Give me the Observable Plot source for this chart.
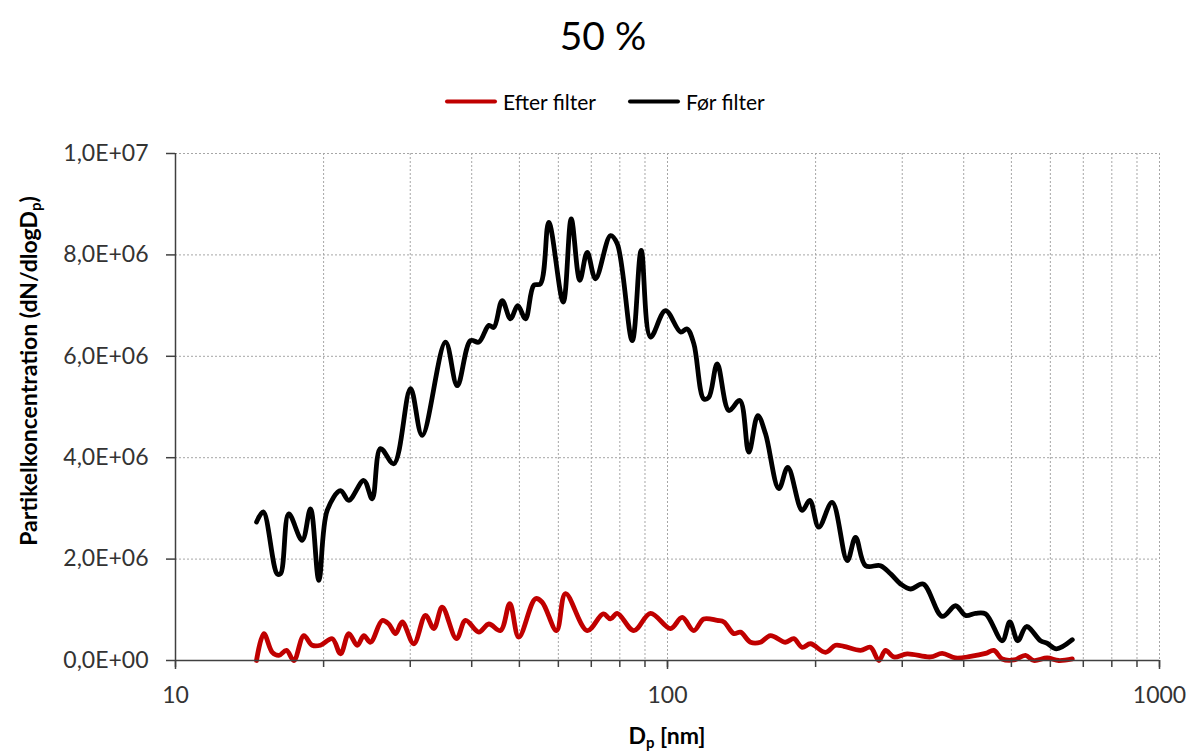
<!DOCTYPE html>
<html>
<head>
<meta charset="utf-8">
<script src="https://cdn.jsdelivr.net/npm/d3@7"></script>
<script src="https://cdn.jsdelivr.net/npm/@observablehq/plot@0.6"></script>
<style>
  html, body { margin: 0; padding: 0; background: #fff; }
  #wrap { position: relative; width: 1190px; height: 751px; overflow: hidden; font-family: Lato, "Noto Sans", sans-serif; }
  #title { height: 70px; line-height: 70px; text-align: center; font-size: 39px; color: #000; padding-left: 16px; }
  #legend { height: 62px; position: relative; font-size: 21px; color: #000; }
  .item { position: absolute; top: 31px; transform: translateY(-50%); display: flex; align-items: center; white-space: nowrap; }
  .swatch { width: 52px; height: 4px; border-radius: 2px; margin-right: 6px; }
  #ytitle { position: absolute; left: 28px; top: 371px; transform: translate(-50%, -50%) rotate(-90deg); font-weight: bold; font-size: 23px; color: #000; white-space: nowrap; }
  #xtitle { height: 29px; line-height: 26px; position: relative; font-weight: bold; font-size: 23px; color: #000; }
  #xtitle span { position: absolute; left: 667px; transform: translateX(-50%); white-space: nowrap; }
  sub { font-size: 0.65em; vertical-align: -0.3em; line-height: 0; }
</style>
</head>
<body>
<div id="wrap">
  <div id="title">50 %</div>
  <div id="legend"></div>
  <div id="chart"></div>
  <div id="xtitle"><span>D<sub>p</sub> [nm]</span></div>
  <div id="ytitle">Partikelkoncentration (dN/dlogD<sub>p</sub>)</div>
</div>
<script>
// Series names and colours
const seriesNames = ["Efter filter", "Før filter"];
const seriesColors = ["#C00000", "#000000"];

// Før filter (black): particle diameter [nm] and concentration [millions dN/dlogDp]
const forD = [14.61, 15.08, 16.09, 16.35, 16.99, 18.09, 18.81, 19.56, 20.34, 21.65, 22.50, 24.14, 25.11, 26.10, 27.78, 30.04, 31.72, 35.38, 37.38, 39.78, 41.36, 43.34, 44.36, 46.13, 47.96, 49.62, 51.45, 53.49, 55.19, 57.37, 61.38, 63.73, 66.34, 68.68, 71.40, 76.59, 79.04, 84.79, 88.42, 92.37, 99.06, 106.3, 109.6, 113.1, 118.5, 121.3, 126.2, 133.3, 140.3, 146.3, 152.6, 158.2, 168.4, 175.6, 187.8, 194.6, 203.0, 216.1, 231.9, 241.1, 252.7, 271.0, 284.0, 297.6, 311.9, 330.9, 361.7, 385.0, 403.5, 422.7, 443.0, 479.0, 496.4, 515.2, 536.7, 573.0, 591.0, 617.4, 664.9];
const forN = [2.73, 2.93, 1.71, 1.71, 2.89, 2.37, 2.99, 1.58, 2.96, 3.35, 3.16, 3.55, 3.19, 4.18, 3.88, 5.36, 4.44, 6.28, 5.42, 6.31, 6.28, 6.61, 6.57, 7.10, 6.74, 7.00, 6.74, 7.40, 7.43, 8.64, 7.07, 8.71, 7.50, 8.05, 7.53, 8.38, 8.22, 6.31, 8.09, 6.38, 6.90, 6.48, 6.54, 6.25, 5.16, 5.19, 5.85, 4.93, 5.13, 4.11, 4.83, 4.47, 3.39, 3.81, 2.96, 3.16, 2.63, 3.12, 1.97, 2.43, 1.87, 1.87, 1.71, 1.51, 1.41, 1.51, 0.87, 1.08, 0.89, 0.93, 0.92, 0.39, 0.76, 0.39, 0.67, 0.39, 0.34, 0.23, 0.41];

// Efter filter (red)
const efterD = [14.61, 15.12, 15.73, 16.22, 16.81, 17.40, 18.23, 18.96, 19.71, 20.83, 21.65, 22.50, 23.41, 24.14, 24.91, 26.31, 27.13, 28.01, 28.90, 30.50, 32.22, 33.50, 34.84, 37.25, 38.86, 41.36, 43.34, 45.77, 47.81, 49.86, 53.91, 55.63, 59.49, 62.05, 68.68, 74.02, 76.59, 79.04, 85.42, 92.37, 101.4, 107.1, 113.1, 118.5, 126.2, 130.2, 136.4, 140.7, 147.5, 154.5, 161.9, 173.7, 180.6, 187.8, 195.3, 209.5, 219.5, 228.2, 246.9, 258.6, 268.9, 277.4, 288.4, 307.1, 342.4, 361.7, 385.0, 413.0, 443.0, 460.5, 479.0, 505.7, 534.1, 555.3, 591.0, 624.0, 664.9];
const efterN = [0.00, 0.53, 0.16, 0.10, 0.20, 0.00, 0.49, 0.30, 0.30, 0.43, 0.13, 0.53, 0.30, 0.49, 0.36, 0.79, 0.72, 0.53, 0.76, 0.33, 0.89, 0.63, 1.05, 0.43, 0.79, 0.56, 0.72, 0.59, 1.12, 0.46, 1.22, 1.15, 0.59, 1.32, 0.59, 0.92, 0.82, 0.93, 0.59, 0.93, 0.63, 0.85, 0.59, 0.82, 0.79, 0.76, 0.53, 0.56, 0.36, 0.36, 0.49, 0.36, 0.43, 0.26, 0.33, 0.16, 0.30, 0.28, 0.20, 0.26, 0.00, 0.20, 0.07, 0.13, 0.07, 0.14, 0.05, 0.08, 0.14, 0.20, 0.03, 0.01, 0.10, 0.00, 0.05, 0.00, 0.03];

const MILLION = 1e6;

// Axis ticks
const xMajorTicks = [10, 100, 1000];
const xMinorTicks = [10, 20, 30, 40, 50, 60, 70, 80, 90, 100, 200, 300, 400, 500, 600, 700, 800, 900, 1000];
const yTicks = [0, 2e6, 4e6, 6e6, 8e6, 1e7];

const toRows = (ds, ns) => ds.map((d, i) => ({d, v: ns[i] * MILLION}));
const efterRows = toRows(efterD, efterN);
const forRows = toRows(forD, forN);

function sci(v) {
  if (v === 0) return "0,0E+00";
  const e = Math.floor(Math.log10(v) + 1e-9);
  const m = v / Math.pow(10, e);
  return m.toFixed(1).replace(".", ",") + "E+" + String(e).padStart(2, "0");
}

// Legend
const legend = document.getElementById("legend");
const legendX = [445, 628];
seriesNames.forEach((name, i) => {
  const it = document.createElement("div");
  it.className = "item";
  it.style.left = legendX[i] + "px";
  it.innerHTML = `<div class="swatch" style="background:${seriesColors[i]}"></div><span>${name}</span>`;
  legend.appendChild(it);
});

const gridStyle = {stroke: "#a6a6a6", strokeOpacity: 1, strokeWidth: 1, strokeDasharray: "2,2"};

const chart = Plot.plot({
  width: 1190,
  height: 590,
  marginLeft: 175,
  marginRight: 31,
  marginTop: 21,
  marginBottom: 62,
  x: {type: "log", domain: [10, 1000]},
  y: {domain: [0, 1e7]},
  style: {fontFamily: "Lato, 'Noto Sans', sans-serif", fontSize: "23px", color: "#333333", background: "white", overflow: "visible"},
  marks: [
    Plot.gridX(xMinorTicks.filter(t => t > 10), gridStyle),
    Plot.gridY(yTicks.filter(t => t > 0), gridStyle),
    Plot.line(efterRows, {x: "d", y: "v", stroke: seriesColors[0], strokeWidth: 4.8, curve: "catmull-rom", strokeLinejoin: "round", strokeLinecap: "round"}),
    Plot.line(forRows, {x: "d", y: "v", stroke: seriesColors[1], strokeWidth: 4.8, curve: "catmull-rom", strokeLinejoin: "round", strokeLinecap: "round"}),
    Plot.ruleX([10], {stroke: "#404040", strokeWidth: 1.5}),
    Plot.ruleY([0], {stroke: "#404040", strokeWidth: 1.5}),
    Plot.axisY(yTicks, {tickSize: 9, tickPadding: 18, tickFormat: sci, label: null, stroke: "#404040", strokeWidth: 1.5}),
    Plot.axisX(xMinorTicks, {tickSize: 7, tickFormat: () => "", label: null, stroke: "#404040", strokeWidth: 1.5}),
    Plot.axisX(xMajorTicks, {tickSize: 9, tickPadding: 17, tickFormat: d => String(d), label: null, stroke: "#404040", strokeWidth: 1.5})
  ]
});
document.getElementById("chart").appendChild(chart);
</script>
</body>
</html>
